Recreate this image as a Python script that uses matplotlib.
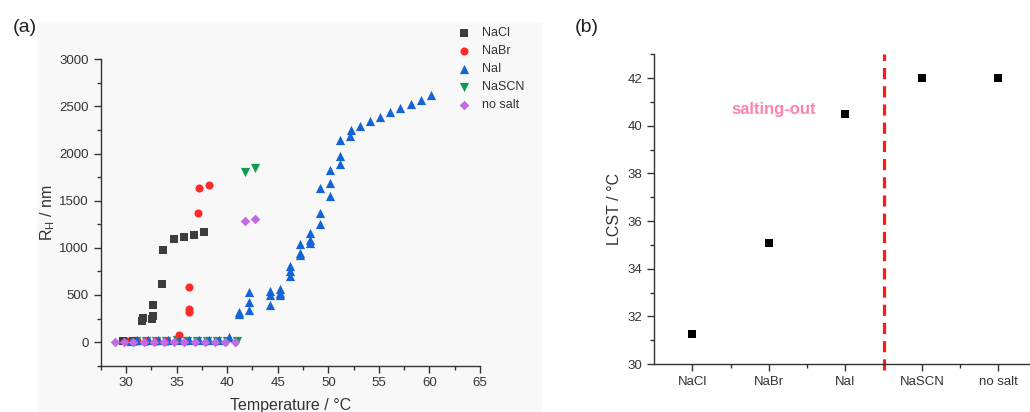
import matplotlib

matplotlib.use("Agg")
import matplotlib.pyplot as plt
from matplotlib.patches import Rectangle
from matplotlib.ticker import MultipleLocator

plt.rcParams["font.family"] = ["Liberation Sans", "DejaVu Sans"]
plt.rcParams["mathtext.fontset"] = "custom"
plt.rcParams["mathtext.rm"] = "Liberation Sans"
plt.rcParams["mathtext.it"] = "Liberation Sans:italic"

TXT = "#333333"

# ── data, panel (a): hydrodynamic radius vs temperature ──────────────────────
nacl_t = [29.7, 30.7, 31.6, 31.7, 32.6, 32.7, 32.7, 33.6, 33.7, 34.7, 35.7, 36.7, 37.7]
nacl_r = [10, 15, 225, 255, 250, 280, 390, 620, 980, 1090, 1115, 1140, 1165]

nabr_t = [30.1, 31.1, 32.1, 33.1, 34.1, 35.2, 36.2, 36.2, 36.2, 37.1, 37.2, 38.2]
nabr_r = [10, 10, 10, 10, 15, 74, 585, 350, 315, 1368, 1635, 1670]

nai_t = [30.5, 31.1, 32.2, 33.2, 34.2, 35.2, 36.2, 37.2, 38.2, 39.2, 40.2,
         41.2, 41.2, 42.2, 42.2, 42.2, 44.2, 44.2, 44.2, 45.2, 45.2, 45.2,
         46.2, 46.2, 46.2, 47.2, 47.2, 47.2, 48.2, 48.2, 48.2, 49.2, 49.2, 49.2,
         50.2, 50.2, 50.2, 51.2, 51.2, 51.2, 52.1, 52.2, 53.1, 54.1, 55.1,
         56.1, 57.1, 58.2, 59.2, 60.2]
nai_r = [15, 20, 20, 20, 20, 20, 20, 20, 20, 25, 55,
         298, 320, 528, 421, 344, 546, 503, 393, 563, 520, 500,
         805, 758, 700, 920, 950, 1040, 1050, 1080, 1160, 1255, 1365, 1634,
         1549, 1687, 1830, 1886, 1974, 2141, 2191, 2255, 2298, 2343, 2389,
         2436, 2479, 2524, 2567, 2620]

nascn_t = [31.0, 32.0, 33.0, 34.0, 35.0, 36.0, 37.0, 38.0, 39.0, 40.0, 41.0, 41.8, 42.8]
nascn_r = [15, 15, 15, 15, 20, 15, 15, 15, 15, 15, 15, 1810, 1850]

nosalt_t = [28.9, 29.8, 30.7, 31.8, 32.8, 33.8, 34.7, 35.7, 36.8, 37.8, 38.8, 39.8, 40.8, 41.8, 42.8]
nosalt_r = [5, 5, 5, 5, 5, 5, 5, 5, 5, 5, 5, 5, 5, 1280, 1305]

# ── data, panel (b): LCST per salt ───────────────────────────────────────────
salts = ["NaCl", "NaBr", "NaI", "NaSCN", "no salt"]
lcst = [31.25, 35.1, 40.5, 42.0, 42.0]

fig = plt.figure(figsize=(10.3, 4.12), dpi=100)
fig.patch.set_facecolor("white")
fig.patches.append(
    Rectangle((37 / 1030, 0), 505 / 1030, 1 - 23 / 412, transform=fig.transFigure,
              facecolor="#f8f8f8", edgecolor="none", zorder=-5)
)


def style_axes(ax):
    ax.set_facecolor("none")
    for s in ("top", "right"):
        ax.spines[s].set_visible(False)
    for s in ("left", "bottom"):
        ax.spines[s].set_color(TXT)
        ax.spines[s].set_linewidth(1.0)
    ax.tick_params(which="both", direction="out", colors=TXT, labelsize=9.5, width=1.0)
    ax.tick_params(which="major", length=5)
    ax.tick_params(which="minor", length=3)


# ── panel (a) ────────────────────────────────────────────────────────────────
ax1 = fig.add_axes([0.0978, 0.1124, 0.3682, 0.7436])
style_axes(ax1)
# (x, y, marker, colour, size, label, zorder) — NaSCN sits under the others at the baseline
series = [
    (nacl_t, nacl_r, "s", "#3d3d3d", 26, "NaCl", 2.7),
    (nabr_t, nabr_r, "o", "#ff2b2b", 34, "NaBr", 2.6),
    (nai_t, nai_r, "^", "#1464d6", 44, "NaI", 3.0),
    (nascn_t, nascn_r, "v", "#0f9a4e", 44, "NaSCN", 2.5),
    (nosalt_t, nosalt_r, "D", "#c36ae0", 24, "no salt", 3.1),
]
for t, r, m, c, s, lab, z in series:
    ax1.scatter(t, r, marker=m, s=s, color=c, linewidths=0, label=lab, zorder=z, clip_on=False)

ax1.set_xlim(27.5, 65)
ax1.set_ylim(-250, 3000)
ax1.xaxis.set_minor_locator(MultipleLocator(2.5))
ax1.set_xticks([30, 35, 40, 45, 50, 55, 60, 65])
ax1.yaxis.set_minor_locator(MultipleLocator(250))
ax1.set_yticks([0, 500, 1000, 1500, 2000, 2500, 3000])
ax1.set_xlabel("Temperature / °C", fontsize=11.5, color=TXT, labelpad=6)
ax1.set_ylabel("R$_\\mathrm{H}$ / nm", fontsize=11.5, color=TXT, labelpad=2)

ax1.legend(
    loc="upper left",
    bbox_to_anchor=(458 / 1030, 1 - 27 / 412),
    bbox_transform=fig.transFigure,
    frameon=False,
    fontsize=9,
    handlelength=1.0,
    handletextpad=0.9,
    labelspacing=0.48,
    borderpad=0,
    borderaxespad=0,
    scatterpoints=1,
    labelcolor=TXT,
)

fig.text(13 / 1030, 1 - 27 / 412, "(a)", fontsize=14, color="#222222", va="center", ha="left")

# ── panel (b) ────────────────────────────────────────────────────────────────
ax2 = fig.add_axes([0.635, 0.1165, 0.3715, 0.7515])
style_axes(ax2)
xpos = list(range(len(salts)))
ax2.scatter(xpos, lcst, marker="s", s=34, color="black", linewidths=0, zorder=3)
ax2.set_xlim(-0.5, 4.5)
ax2.set_ylim(30, 43)
ax2.set_xticks(xpos)
ax2.set_xticklabels(salts)
ax2.set_xticks([0.5, 1.5, 2.5, 3.5], minor=True)
ax2.set_yticks([30, 32, 34, 36, 38, 40, 42])
ax2.yaxis.set_minor_locator(MultipleLocator(1))
ax2.set_ylabel("LCST / °C", fontsize=11.5, color=TXT, labelpad=4)

ax2.axvline(2.5, ymin=-0.02, ymax=1.0, color="#ff1a1a", lw=2.3, dashes=(3.5, 2.2),
            clip_on=False, zorder=2)
ax2.text(1.06, 40.67, "salting-out", color="#ff82a9", fontsize=12, fontweight="bold",
         ha="center", va="center")

fig.text(575 / 1030, 1 - 27 / 412, "(b)", fontsize=14, color="#222222", va="center", ha="left")

plt.savefig("out.png", dpi=100, facecolor="white")
plt.close()
